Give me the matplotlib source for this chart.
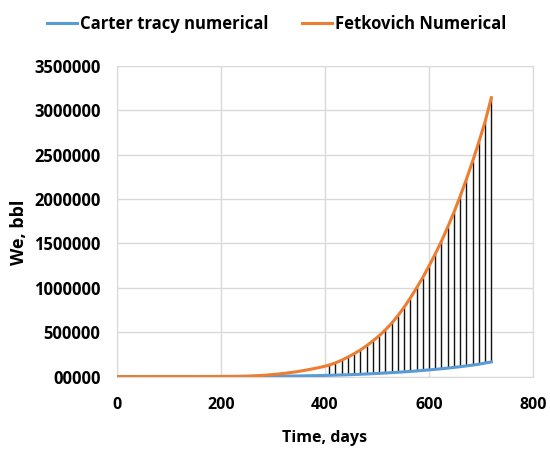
import matplotlib
matplotlib.use('Agg')
import matplotlib.pyplot as plt
from matplotlib.ticker import FuncFormatter, MultipleLocator

# time steps, days
days = [0, 12, 24, 36, 48, 60, 72, 84, 96, 108,
        120, 132, 144, 156, 168, 180, 192, 204, 216, 228,
        240, 252, 264, 276, 288, 300, 312, 324, 336, 348,
        360, 372, 384, 396, 408, 420, 432, 444, 456, 468,
        480, 492, 504, 516, 528, 540, 552, 564, 576, 588,
        600, 612, 624, 636, 648, 660, 672, 684, 696, 708,
        720]

# cumulative water influx, bbl
carter_tracy = [0, 100, 200, 300, 400, 500, 600, 700, 800, 900,
                1000, 1100, 1200, 1300, 1400, 1500, 1700, 1900, 2100, 2300,
                2600, 2900, 3300, 3700, 4200, 4800, 5500, 6300, 7200, 8200,
                9300, 10500, 11800, 13200, 15000, 17000, 19000, 21500, 24000, 27000,
                30000, 33500, 37000, 41000, 45000, 49500, 54000, 59000, 64000, 70000,
                76000, 82000, 89000, 96000, 104000, 112000, 121000, 130000, 140000, 153000,
                166000]

fetkovich = [0, 100, 200, 300, 400, 500, 600, 700, 800, 900,
             1000, 1100, 1200, 1400, 1600, 1800, 2000, 2300, 2700, 3200,
             4000, 6000, 9000, 13000, 18000, 24000, 31000, 39000, 48000, 58000,
             70000, 83000, 97000, 112000, 130000, 155000, 185000, 220000, 258000, 300000,
             348000, 402000, 460000, 526000, 600000, 685000, 780000, 885000, 998000, 1115000,
             1245000, 1381000, 1525000, 1683000, 1850000, 2030000, 2222000, 2425000, 2642000, 2871000,
             3140000]

# drop lines start here
drop_from = 408

plt.rcParams['font.family'] = ['Open Sans', 'DejaVu Sans']
plt.rcParams['font.weight'] = 'bold'

fig = plt.figure(figsize=(5.5, 4.5), dpi=100)
ax = fig.add_axes([0.213, 0.163, 0.756, 0.691])

# high-low style lines between the two series
dx = [d for d in days if d >= drop_from]
lo = [c for d, c in zip(days, carter_tracy) if d >= drop_from]
hi = [f for d, f in zip(days, fetkovich) if d >= drop_from]
ax.vlines(dx, lo, hi, colors='#111111', linewidth=1.0, zorder=2)

ax.plot(days, carter_tracy, color='#5B9BD5', lw=2.2, label='Carter tracy numerical', zorder=3)
ax.plot(days, fetkovich, color='#ED7D31', lw=2.2, label='Fetkovich Numerical', zorder=3)

ax.set_xlim(0, 800)
ax.set_ylim(0, 3500000)
ax.xaxis.set_major_locator(MultipleLocator(200))
ax.yaxis.set_major_locator(MultipleLocator(500000))
ax.yaxis.set_major_formatter(FuncFormatter(lambda v, p: '00000' if v == 0 else '%d' % v))

ax.grid(True, color='#d9d9d9', lw=1)
ax.set_axisbelow(True)
for s in ax.spines.values():
    s.set_color('#d9d9d9')
ax.tick_params(axis='y', length=0, labelsize=12, pad=12)
ax.tick_params(axis='x', length=0, labelsize=11.5, pad=15)

ax.set_xlabel('Time, days', fontsize=11.5, fontweight='bold', labelpad=12)
ax.set_ylabel('We, bbl', fontsize=13, fontweight='bold')
ax.yaxis.set_label_coords(-0.214, 0.465)

fig.legend(loc='center', bbox_to_anchor=(0.503, 0.947), ncol=2, frameon=False,
           fontsize=12, handlelength=1.8, handletextpad=0.18, columnspacing=2.0)

plt.savefig('out.png', dpi=100)
